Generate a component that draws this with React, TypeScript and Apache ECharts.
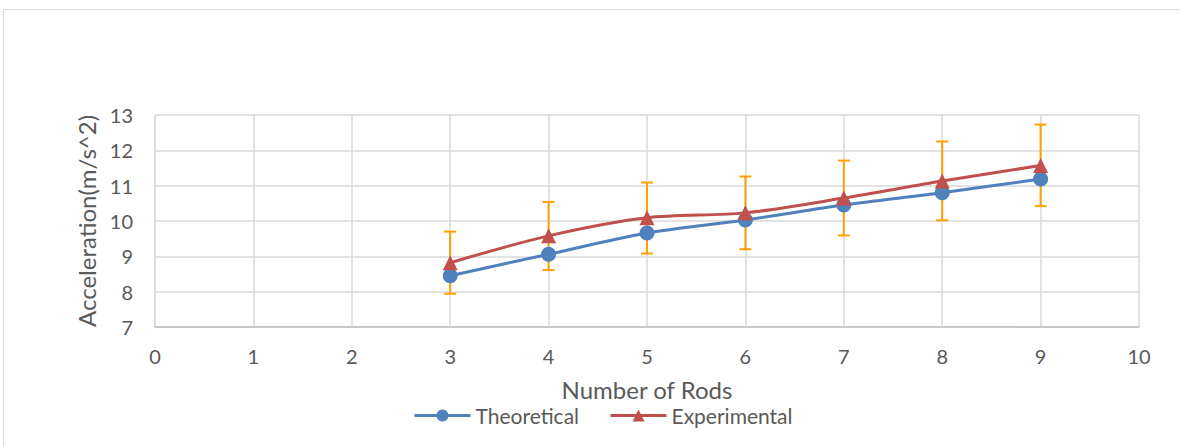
import React, { useEffect, useRef } from "react";
import * as echarts from "echarts";

const rods = [3, 4, 5, 6, 7, 8, 9];
const theoretical = [8.45, 9.06, 9.66, 10.03, 10.45, 10.8, 11.19];
const experimental = [8.82, 9.58, 10.09, 10.23, 10.65, 11.13, 11.57];
const errLow = [7.94, 8.61, 9.08, 9.2, 9.59, 10.02, 10.42];
const errHigh = [9.7, 10.54, 11.09, 11.26, 11.71, 12.25, 12.73];

const FONT = "Lato";
const TXT = "#595959";

export default function App() {
  const ref = useRef<HTMLDivElement>(null);
  useEffect(() => {
    if (!ref.current) return;
    const chart = echarts.init(ref.current, null, { renderer: "svg" });
    const errData = rods.map((r, i) => [r, errLow[i], errHigh[i]]);
    chart.setOption({
      animation: false,
      backgroundColor: "#ffffff",
      textStyle: { fontFamily: FONT },
      graphic: [
        {
          type: "rect",
          shape: { x: 3.5, y: 9.5, width: 1300, height: 600 },
          style: { fill: "none", stroke: "#D9D9D9", lineWidth: 1 },
          silent: true,
          z: -10,
        },
      ],
      grid: { left: 155, right: 41, top: 115, bottom: 119 },
      xAxis: {
        type: "value",
        min: 0,
        max: 10,
        interval: 1,
        name: "Number of Rods",
        nameLocation: "middle",
        nameGap: 50,
        nameTextStyle: { fontFamily: FONT, fontSize: 24, color: TXT },
        axisLine: { show: true, lineStyle: { color: "#BFBFBF", width: 1.5 } },
        axisTick: { show: false },
        axisLabel: { fontFamily: FONT, fontSize: 20, color: TXT, margin: 19 },
        splitLine: { show: true, lineStyle: { color: "#D9D9D9", width: 1.5 } },
      },
      yAxis: {
        type: "value",
        min: 7,
        max: 13,
        interval: 1,
        name: "Acceleration(m/s^2)",
        nameLocation: "middle",
        nameGap: 55,
        nameTextStyle: { fontFamily: FONT, fontSize: 24, color: TXT },
        axisLine: { show: true, lineStyle: { color: "#D9D9D9", width: 1.5 } },
        axisTick: { show: false },
        axisLabel: { fontFamily: FONT, fontSize: 20, color: TXT, margin: 22 },
        splitLine: { show: true, lineStyle: { color: "#D9D9D9", width: 1.5 } },
      },
      legend: {
        bottom: 15,
        left: 408,
        itemWidth: 56,
        itemHeight: 15,
        itemGap: 30,
        textStyle: { fontFamily: FONT, fontSize: 21, color: TXT },
        lineStyle: { width: 3 },
        data: ["Theoretical", "Experimental"],
      },
      series: [
        {
          name: "Error",
          type: "custom",
          z: 1,
          data: errData,
          renderItem: (params: any, api: any) => {
            const x = api.value(0);
            const lo = api.coord([x, api.value(1)]);
            const hi = api.coord([x, api.value(2)]);
            const cap = 6;
            const style = { stroke: "#FFA000", lineWidth: 2 };
            return {
              type: "group",
              children: [
                { type: "line", shape: { x1: lo[0], y1: lo[1], x2: hi[0], y2: hi[1] }, style },
                { type: "line", shape: { x1: lo[0] - cap, y1: lo[1], x2: lo[0] + cap, y2: lo[1] }, style },
                { type: "line", shape: { x1: hi[0] - cap, y1: hi[1], x2: hi[0] + cap, y2: hi[1] }, style },
              ],
            };
          },
        },
        {
          name: "Theoretical",
          type: "line",
          z: 3,
          smooth: 0.3,
          data: rods.map((r, i) => [r, theoretical[i]]),
          symbol: "circle",
          symbolSize: 15,
          itemStyle: { color: "#4F81BD" },
          lineStyle: { color: "#4F81BD", width: 3 },
        },
        {
          name: "Experimental",
          type: "line",
          z: 4,
          smooth: 0.3,
          data: rods.map((r, i) => [r, experimental[i]]),
          symbol: "triangle",
          symbolSize: 15,
          itemStyle: { color: "#C0504D" },
          lineStyle: { color: "#C0504D", width: 3 },
        },
      ],
    });
    return () => chart.dispose();
  }, []);
  return (
    <div
      ref={ref}
      style={{ position: "absolute", left: 0, top: 0, width: 1180, height: 446 }}
    />
  );
}
